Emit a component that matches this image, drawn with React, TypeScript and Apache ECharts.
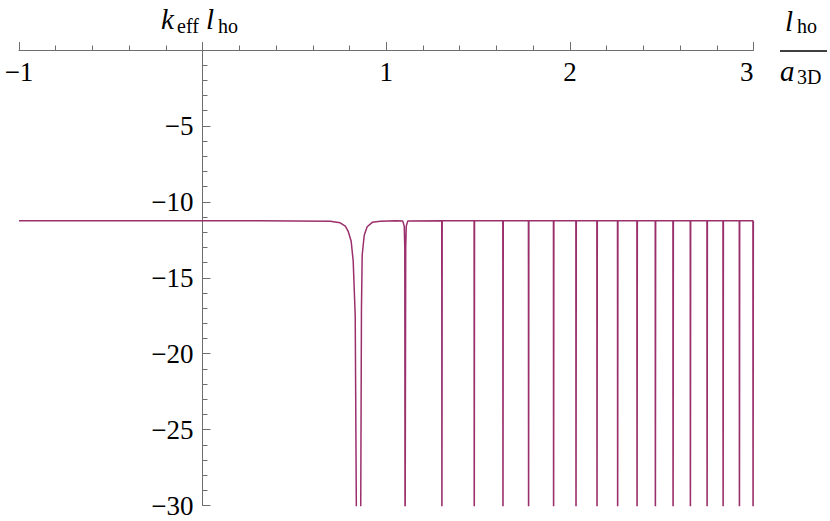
import React, { useEffect, useRef } from "react";
import * as echarts from "echarts";

// ---- data ----
const xTickValues = [-1, 1, 2, 3];
const yTickValues = [-30, -25, -20, -15, -10, -5];

// flat part + broad resonance near x ≈ 0.85
const broadDip: [number, number][] = [
  [-1, -11.25],
  [0.3, -11.25],
  [0.695, -11.28],
  [0.749, -11.38],
  [0.777, -11.6],
  [0.793, -11.95],
  [0.809, -12.6],
  [0.82, -13.9],
  [0.831, -17.5],
  [0.8395, -35],
  [0.8595, -35],
  [0.865, -17],
  [0.869, -13.5],
  [0.88, -12.2],
  [0.896, -11.64],
  [0.924, -11.35],
  [0.967, -11.28],
  [1.05, -11.25],
];

// narrow resonance near x ≈ 1.10
const narrowDip: [number, number][] = [
  [1.09, -11.27],
  [1.098, -11.6],
  [1.101, -13],
  [1.1025, -35],
  [1.1045, -35],
  [1.106, -13],
  [1.109, -11.6],
  [1.117, -11.27],
];

// very narrow resonances (positions)
const spikeX = [
  1.3035, 1.4796, 1.636, 1.7755, 1.9117, 2.0338, 2.1482, 2.2605, 2.3662,
  2.466, 2.5624, 2.6567, 2.7477, 2.8349, 2.9237, 2.998,
];
const spikeLevel = -11.25;
const spikeDepth = -35;
const endPoint: [number, number] = [3, -11.25];

const FONT = "Liberation Serif";
const LINE_COLOR = "#9a2f6c";
const AXIS_COLOR = "#6e6e6e";

function buildCurve(): [number, number][] {
  const pts: [number, number][] = [...broadDip, ...narrowDip];
  spikeX.forEach((s) => {
    pts.push([s - 0.0012, spikeLevel]);
    pts.push([s - 0.0004, spikeDepth]);
    pts.push([s + 0.0004, spikeDepth]);
    pts.push([s + 0.0012, spikeLevel]);
  });
  pts.push(endPoint);
  return pts;
}

function minusFmt(v: number): string {
  if (v === 0) return "";
  return v < 0 ? "\u2212" + Math.abs(v) : String(v);
}

type Piece = { t: string; x: number; base: number; size: number; italic: boolean };

const labelPieces: Piece[] = [
  { t: "k", x: 161, base: 29, size: 29, italic: true },
  { t: "eff", x: 177, base: 33, size: 20, italic: false },
  { t: "l", x: 206, base: 29, size: 29, italic: true },
  { t: "ho", x: 218, base: 33, size: 20, italic: false },
  { t: "l", x: 785, base: 31, size: 29, italic: true },
  { t: "ho", x: 797, base: 33, size: 20, italic: false },
  { t: "a", x: 780, base: 81, size: 29, italic: true },
  { t: "3D", x: 797, base: 84, size: 20, italic: false },
];

const GRID_TOP = 50;
const GRID_BOTTOM = 15.5;
const GRID_RIGHT = 76.5;

export default function App() {
  const ref = useRef<HTMLDivElement>(null);
  useEffect(() => {
    if (!ref.current) return;
    const chart = echarts.init(ref.current, null, { renderer: "svg" });
    const graphics: any[] = labelPieces.map((p) => ({
      type: "text",
      x: p.x,
      y: p.base - 0.3375 * p.size,
      silent: true,
      style: {
        text: p.t,
        fontFamily: FONT,
        fontSize: p.size,
        fontStyle: p.italic ? "italic" : "normal",
        fill: "#000",
        verticalAlign: "middle",
        align: "left",
      },
    }));
    graphics.push({
      type: "line",
      silent: true,
      shape: { x1: 780, y1: 51, x2: 827, y2: 51 },
      style: { stroke: "#000", lineWidth: 1.3 },
    });
    const tickStyle = { color: AXIS_COLOR, width: 1 };
    chart.setOption({
      animation: false,
      backgroundColor: "#fff",
      grid: [
        // full plot area: x from -1 to 3
        { left: 19, right: GRID_RIGHT, top: GRID_TOP, bottom: GRID_BOTTOM, containLabel: false, outerBoundsMode: "none" },
        // helper grid whose left edge is x = 0 (carries the vertical axis)
        { left: 202.5, right: GRID_RIGHT, top: GRID_TOP, bottom: GRID_BOTTOM, containLabel: false, outerBoundsMode: "none" },
      ],
      xAxis: [
        {
          type: "value",
          gridIndex: 0,
          min: -1,
          max: 3,
          interval: 1,
          position: "top",
          axisLine: { onZero: false, lineStyle: tickStyle },
          axisTick: { inside: false, length: 8, lineStyle: tickStyle },
          minorTick: { show: true, splitNumber: 5, length: 4.5, lineStyle: tickStyle },
          splitLine: { show: false },
          axisLabel: {
            inside: true,
            customValues: xTickValues,
            formatter: (v: number) => minusFmt(v),
            fontFamily: FONT,
            fontSize: 27,
            color: "#000",
            margin: 8,
            alignMaxLabel: "right",
          },
        },
        {
          type: "value",
          gridIndex: 1,
          min: 0,
          max: 3,
          show: false,
        },
      ],
      yAxis: [
        {
          type: "value",
          gridIndex: 0,
          min: -30,
          max: 0,
          interval: 5,
          show: false,
        },
        {
          type: "value",
          gridIndex: 1,
          min: -30,
          max: 0,
          interval: 5,
          position: "left",
          axisLine: { show: true, onZero: false, lineStyle: tickStyle },
          axisTick: { show: true, inside: true, length: 8, lineStyle: tickStyle },
          minorTick: { show: true, splitNumber: 5, length: 5, lineStyle: tickStyle },
          splitLine: { show: false },
          axisLabel: {
            customValues: yTickValues,
            formatter: (v: number) => minusFmt(v),
            fontFamily: FONT,
            fontSize: 27,
            color: "#000",
            margin: 9,
          },
        },
      ],
      graphic: graphics,
      series: [
        {
          type: "line",
          xAxisIndex: 0,
          yAxisIndex: 0,
          data: buildCurve(),
          showSymbol: false,
          symbol: "none",
          clip: true,
          silent: true,
          lineStyle: { color: LINE_COLOR, width: 1.5 },
        },
      ],
    });
    return () => chart.dispose();
  }, []);
  return (
    <div
      ref={ref}
      style={{ position: "absolute", left: 0, top: 0, width: 830, height: 521 }}
    />
  );
}
